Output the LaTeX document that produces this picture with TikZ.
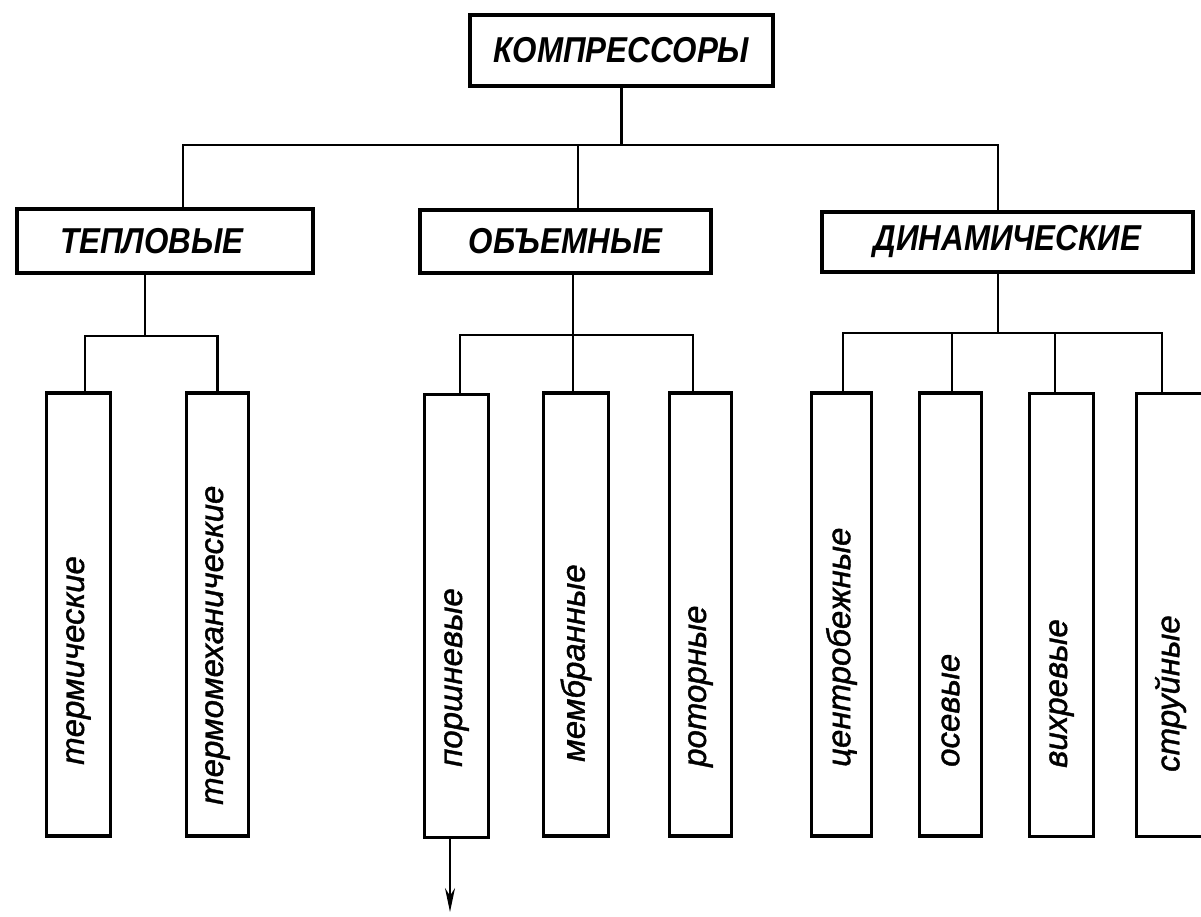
\documentclass[tikz,border=0pt]{standalone}
\usepackage{fontspec}
\setmainfont{Liberation Sans}
\newfontfamily\hdrfont[FakeStretch=0.87]{Liberation Sans}
\newfontfamily\leaffont[FakeBold=1.2]{Liberation Sans}
\usetikzlibrary{arrows.meta,calc}
\begin{document}
\begin{tikzpicture}[x=1pt,y=-1pt,
  hbox/.style={draw, line width=4.5pt, rectangle, inner sep=0pt,
    font=\hdrfont\fontsize{36}{36}\selectfont\bfseries\itshape},
  leafbox/.style={draw, line width=3.5pt, rectangle, inner sep=0pt,
    minimum height=443pt},
  leaftext/.style={rotate=90, anchor=west, inner sep=0pt,
    font=\leaffont\fontsize{33}{33}\selectfont\itshape},
  conn/.style={line width=2.2pt},
  arrowline/.style={line width=2pt, -{Stealth[length=24pt,width=10pt]}}
]
\useasboundingbox (0,0) rectangle (1201,916);
\fill[white] (0,0) rectangle (1201,916);

% top
\node[hbox, minimum width=303pt, minimum height=71pt] (top) at (621.5,50.5) {КОМПРЕССОРЫ};
% second row
\node[hbox, minimum width=296pt, minimum height=64pt] (T) at (165,241) {ТЕПЛОВЫЕ\hspace*{26pt}};
\node[hbox, minimum width=291pt, minimum height=63pt] (O) at (565.5,241.5) {ОБЪЕМНЫЕ};
\node[hbox, minimum width=371pt, minimum height=60pt] (D) at (1007.5,242) {ДИНАМИЧЕСКИЕ};

% leaves
\node[leafbox, minimum width=64pt] (l1) at (78.5,614.5) {};
\node[leafbox, minimum width=62pt] (l2) at (217.5,614.5) {};
\node[leafbox, minimum width=64pt] (l3) at (456.5,616) {};
\node[leafbox, minimum width=65pt] (l4) at (576,614.5) {};
\node[leafbox, minimum width=62pt] (l5) at (700.5,614.5) {};
\node[leafbox, minimum width=60pt] (l6) at (841.5,614.5) {};
\node[leafbox, minimum width=62pt] (l7) at (950.5,614.5) {};
\node[leafbox, minimum width=64pt] (l8) at (1061.5,615) {};
\node[leafbox, minimum width=68pt] (l9) at (1170.5,615) {};

\node[leaftext] (t1) at (l1.center |- 0,765) {термические};
\node[leaftext] (t2) at (l2.center |- 0,805) {термомеханические};
\node[leaftext] (t3) at (l3.center |- 0,767) {поршневые};
\node[leaftext] (t4) at (l4.center |- 0,762) {мембранные};
\node[leaftext] (t5) at (l5.center |- 0,767) {роторные};
\node[leaftext] (t6) at (l6.center |- 0,767) {центробежные};
\node[leaftext] (t7) at (l7.center |- 0,767) {осевые};
\node[leaftext] (t8) at (l8.center |- 0,768) {вихревые};
\node[leaftext] (t9) at (l9.center |- 0,772) {струйные};

% main bus
\coordinate (bus0) at (top.south |- 0,145);
\draw[conn] (top.south) -- (bus0);
\draw[conn] ([xshift=18pt]T.north) |- (bus0) -| ([xshift=-9.5pt]D.north);
\coordinate (oc) at ([xshift=12.5pt]O.north);
\draw[conn] (oc) -- (oc |- bus0);

% T sub-bus
\coordinate (tc) at ([xshift=-20pt]T.south);
\coordinate (tbus) at (tc |- 0,336);
\draw[conn] (tc) -- (tbus);
\draw[conn] ([xshift=6.5pt]l1.north) |- (tbus) -| (l2.north);

% O sub-bus
\coordinate (oc2) at ([xshift=7.5pt]O.south);
\coordinate (obus) at (oc2 |- 0,335);
\draw[conn] (oc2) -- (obus);
\draw[conn] ([xshift=3.5pt]l3.north) |- (obus) -| ([xshift=-7.5pt]l5.north);
\coordinate (l4c) at ([xshift=-3pt]l4.north);
\draw[conn] (l4c) -- (l4c |- obus);

% D sub-bus
\coordinate (dc) at ([xshift=-9.5pt]D.south);
\coordinate (dbus) at (dc |- 0,333);
\draw[conn] (dc) -- (dbus);
\draw[conn] ([xshift=1.5pt]l6.north) |- (dbus) -| ([xshift=-8.5pt]l9.north);
\coordinate (l7c) at ([xshift=1.5pt]l7.north);
\draw[conn] (l7c) -- (l7c |- dbus);
\coordinate (l8c) at ([xshift=-6.5pt]l8.north);
\draw[conn] (l8c) -- (l8c |- dbus);

% arrow
\coordinate (arrend) at (450,912);
\draw[arrowline] (l3.south -| arrend) -- (arrend);
\end{tikzpicture}
\end{document}
